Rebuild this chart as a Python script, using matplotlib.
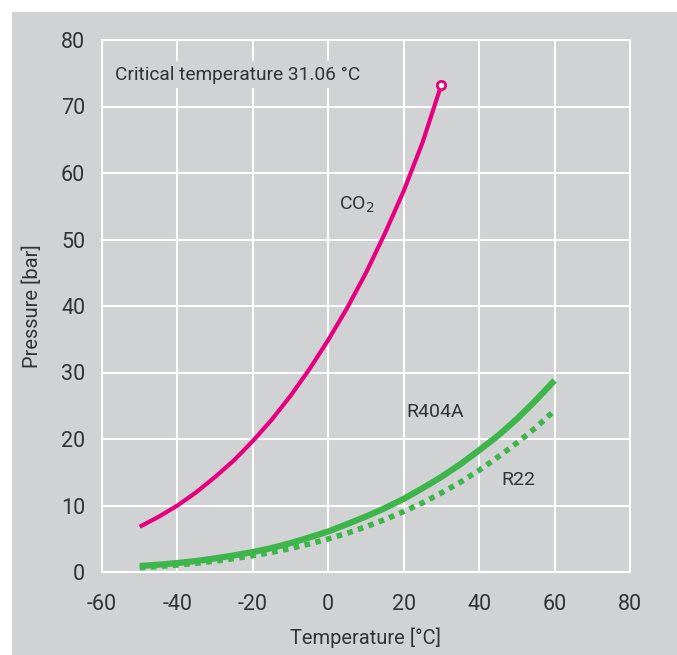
import matplotlib
matplotlib.use('Agg')
import matplotlib.pyplot as plt
from matplotlib.patches import Rectangle

# saturation pressure curves, bar
co2_temp = [-50, -45, -40, -35, -30, -25, -20, -15, -10, -5, 0, 5, 10, 15, 20, 25, 30]
co2_pres = [6.8, 8.3, 10.0, 12.0, 14.3, 16.8, 19.7, 22.9, 26.5, 30.5, 34.9, 39.7,
            45.0, 50.9, 57.3, 64.6, 73.3]

r404a_temp = list(range(-50, 61, 5))
r404a_pres = [0.9, 1.1, 1.35, 1.65, 2.05, 2.5, 3.0, 3.6, 4.35, 5.2, 6.1, 7.2,
              8.35, 9.6, 11.0, 12.6, 14.3, 16.2, 18.3, 20.5, 23.0, 25.8, 28.8]

r22_temp = list(range(-50, 61, 5))
r22_pres = [0.64, 0.83, 1.05, 1.32, 1.64, 2.01, 2.45, 2.96, 3.55, 4.22, 4.98, 5.84,
            6.81, 7.89, 9.10, 10.4, 11.9, 13.5, 15.3, 17.3, 19.4, 21.7, 24.3]

x_ticks = [-60, -40, -20, 0, 20, 40, 60, 80]
y_ticks = [0, 10, 20, 30, 40, 50, 60, 70, 80]

plt.rcParams['font.family'] = ['Roboto', 'DejaVu Sans']
plt.rcParams['axes.unicode_minus'] = False

bg = '#d1d2d4'
txt = '#333333'
pink = '#e6007e'
green = '#3db54a'

fig = plt.figure(figsize=(6.77, 6.55), dpi=100)
fig.patches.append(Rectangle((12 / 677, 0), 1, 1 - 12 / 655, transform=fig.transFigure,
                             facecolor=bg, edgecolor='none', zorder=-1))
ax = fig.add_axes([102 / 677, 1 - 572 / 655, 528 / 677, 532 / 655])
ax.set_facecolor(bg)

ax.plot(co2_temp, co2_pres, color=pink, lw=3, solid_capstyle='butt')
ax.plot([co2_temp[-1]], [co2_pres[-1]], 'o', color=pink, mfc='white', mew=2, ms=6)
ax.plot(r404a_temp, r404a_pres, color=green, lw=4.5, solid_capstyle='butt')
ax.plot(r22_temp, r22_pres, color=green, lw=4, linestyle=(0, (1.0, 1.0)),
        dash_capstyle='butt')

ax.set_xlim(-60, 80)
ax.set_ylim(0, 80)
ax.set_xticks(x_ticks)
ax.set_yticks(y_ticks)
ax.grid(True, color='white', lw=1.5)
ax.set_axisbelow(True)
for s in ax.spines.values():
    s.set_color('white')
    s.set_linewidth(1.5)
ax.tick_params(length=0, labelsize=15.5, labelcolor=txt)
ax.tick_params(axis='x', pad=16)
ax.tick_params(axis='y', pad=12)

ax.set_xlabel('Temperature [°C]', fontsize=14.5, color=txt, labelpad=9)
ax.set_ylabel('Pressure [bar]', fontsize=14.5, color=txt, labelpad=14)

ax.text(-56.5, 74.8, 'Critical temperature 31.06 °C', fontsize=13.8, color=txt,
        va='center', ha='left',
        bbox=dict(facecolor=bg, edgecolor='none', pad=3))
ax.text(7.5, 55.2, 'CO$_2$', fontsize=14, color=txt, ha='center', va='center')
ax.text(28.3, 24.0, 'R404A', fontsize=14, color=txt, ha='center', va='center')
ax.text(50.3, 13.8, 'R22', fontsize=14, color=txt, ha='center', va='center')

fig.savefig('out.png', dpi=100)
